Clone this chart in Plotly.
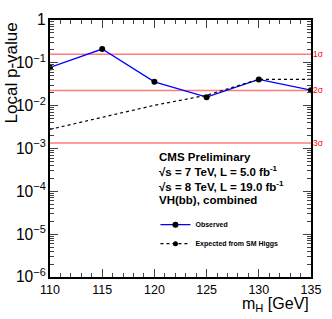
import math
import plotly.graph_objects as go

masses = [110, 115, 120, 125, 130, 135]
observed = [0.078, 0.21, 0.036, 0.0158, 0.041, 0.023]
expected = [0.0028, 0.0053, 0.0102, 0.0175, 0.041, 0.041]
sigma_p = [0.1587, 0.02275, 0.00135]
sigma_labels = ["1σ", "2σ", "3σ"]
info_lines = ["<b>CMS Preliminary</b>",
              "<b>√s = 7 TeV, L = 5.0 fb<sup>-1</sup></b>",
              "<b>√s = 8 TeV, L = 19.0 fb<sup>-1</sup></b>",
              "<b>VH(bb), combined</b>"]

FONT = "Liberation Sans, Arial, sans-serif"
fig = go.Figure()

for p, lab in zip(sigma_p, sigma_labels):
    fig.add_shape(type="line", xref="x", yref="y", x0=masses[0], x1=masses[-1], y0=p, y1=p,
                  line=dict(color="rgba(255,90,90,0.8)", width=1.5), layer="below")
    fig.add_annotation(xref="paper", yref="y", x=1.0, y=math.log10(p), text=lab,
                       showarrow=False, xanchor="left", xshift=0,
                       font=dict(family=FONT, size=8.5, color="red"))

fig.add_trace(go.Scatter(x=masses, y=observed, mode="lines+markers", name="<b>Observed</b>",
                         line=dict(color="#0000ff", width=1.3),
                         marker=dict(color="black", size=6)))
fig.add_trace(go.Scatter(x=masses, y=expected, mode="lines", name="<b>Expected from SM Higgs</b>",
                         line=dict(color="black", width=1.2, dash="dot"), showlegend=False))
fig.add_trace(go.Scatter(x=[None], y=[None], mode="lines+markers", name="<b>Expected from SM Higgs</b>",
                         line=dict(color="black", width=1.2, dash="dot"),
                         marker=dict(color="black", size=5)))

for i, t in enumerate(info_lines):
    fig.add_annotation(xref="paper", yref="paper", x=0.41, y=0.466 - i * 0.055, text=t,
                       showarrow=False, xanchor="left", yanchor="middle",
                       font=dict(family=FONT, size=11.5, color="black"))

fig.add_annotation(xref="paper", yref="paper", x=1.0, y=-0.064, text="m<sub>H</sub> [GeV]",
                   showarrow=False, xanchor="right", yanchor="top",
                   font=dict(family=FONT, size=16, color="black"))
fig.add_annotation(xref="paper", yref="paper", x=-0.19, y=1.0, text="Local p-value",
                   showarrow=False, textangle=-90, xanchor="left", yanchor="top",
                   font=dict(family=FONT, size=17, color="black"))

fig.update_layout(
    width=332, height=319,
    margin=dict(l=50, r=11, t=15, b=42),
    paper_bgcolor="white", plot_bgcolor="white",
    font=dict(family=FONT, size=12, color="black"),
    showlegend=True,
    legend=dict(x=0.404, y=0.26, xanchor="left", yanchor="top",
                bgcolor="rgba(0,0,0,0)", font=dict(family=FONT, size=7),
                itemwidth=30, tracegroupgap=0),
    xaxis=dict(range=[110, 135], dtick=5, tick0=110, ticks="inside", ticklen=8,
               showline=True, linecolor="black", linewidth=1.5, mirror="ticks",
               showgrid=False, zeroline=False, tickfont=dict(size=12.5),
               minor=dict(dtick=1, ticks="inside", ticklen=4, showgrid=False)),
    yaxis=dict(type="log", range=[-6, 0], dtick=1, ticks="inside", ticklen=8,
               exponentformat="power", showline=True, linecolor="black", linewidth=1.5,
               mirror="ticks", showgrid=False, zeroline=False, tickfont=dict(size=12.5),
               minor=dict(dtick="D1", ticks="inside", ticklen=4, showgrid=False)),
)

fig.write_html("out.html", config={"displayModeBar": False},
               post_script="document.body.style.margin='0';document.body.style.overflow='hidden';")
